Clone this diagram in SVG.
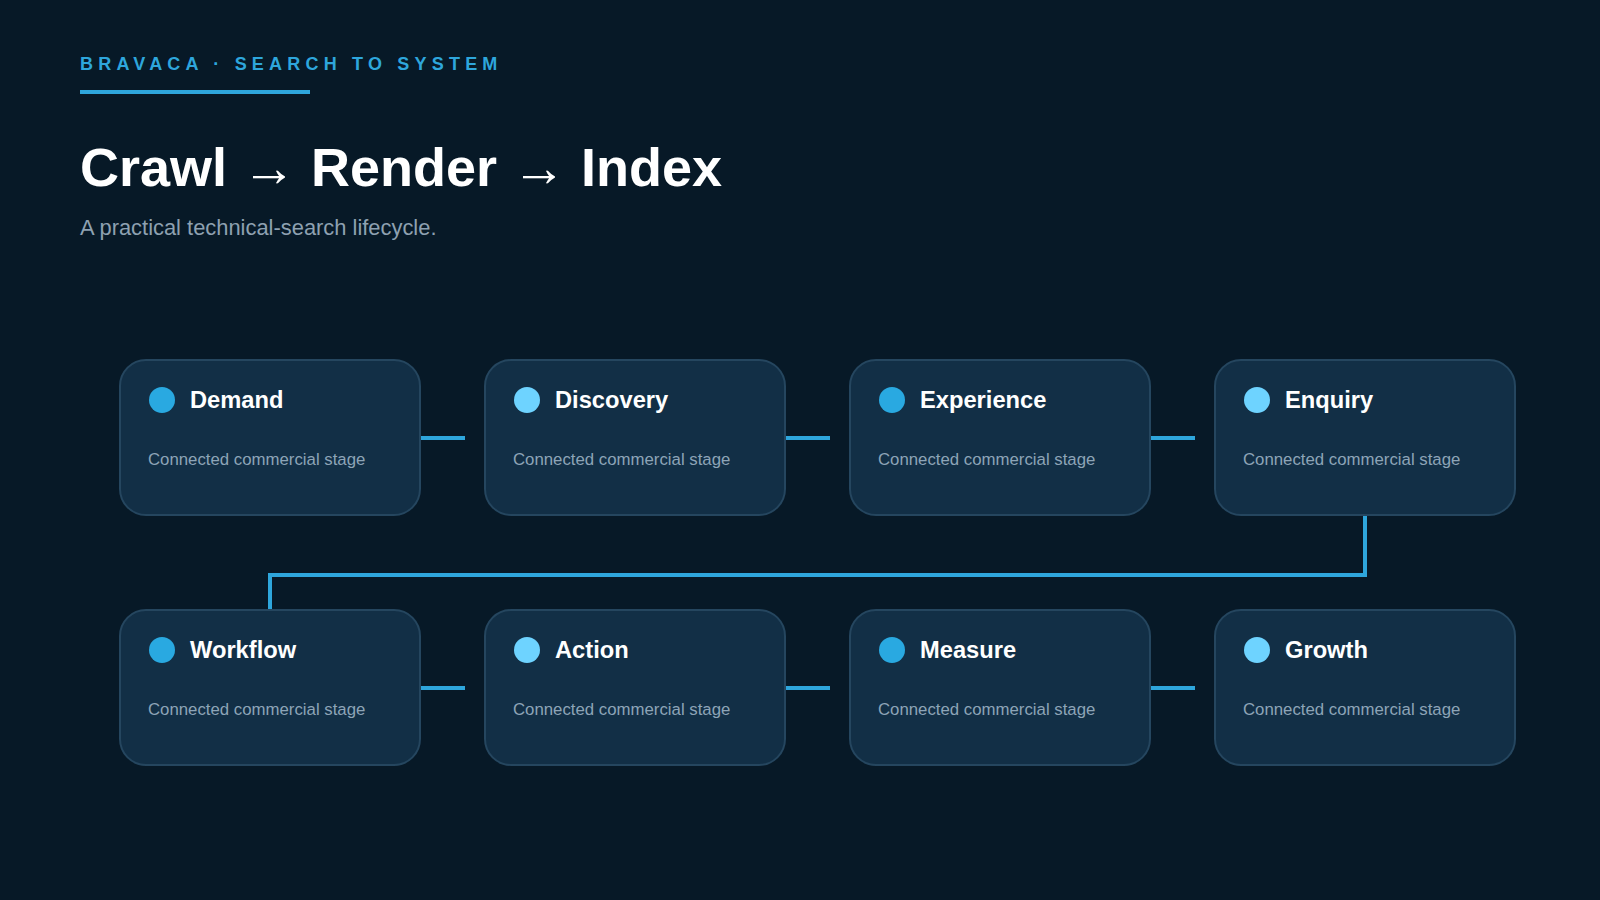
<svg xmlns="http://www.w3.org/2000/svg" width="1600" height="900" viewBox="0 0 1600 900">
  <style>
    .bg { fill: #071927; }
    .card { fill: #122f46; stroke: #25465f; stroke-width: 2; }
    .dot-a { fill: #29a9e1; }
    .dot-b { fill: #6ed3ff; }
    .name { font-family: "Liberation Sans", Arial, sans-serif; font-weight: 700; font-size: 23.7px; fill: #ffffff; }
    .desc { font-family: "Liberation Sans", Arial, sans-serif; font-size: 16.8px; fill: #8da4b7; }
    .conn { fill: none; stroke: #2ea6dc; stroke-width: 4; }
    .kicker { font-family: "Liberation Sans", Arial, sans-serif; font-weight: 700; font-size: 18px; letter-spacing: 5.2px; fill: #2ea6dc; }
    .title { font-family: "Liberation Sans", Arial, sans-serif; font-weight: 700; font-size: 54px; fill: #ffffff; }
    .sub { font-family: "Liberation Sans", Arial, sans-serif; font-size: 21.9px; fill: #8ea1b1; }
  </style>
  <rect class="bg" x="0" y="0" width="1600" height="900"/>

  <g id="header">
    <text class="kicker" x="80" y="70">BRAVACA · SEARCH TO SYSTEM</text>
    <rect x="80" y="90" width="230" height="4" fill="#2ea6dc"/>
    <text class="title" x="80" y="186">Crawl → Render → Index</text>
    <text class="sub" x="80" y="235">A practical technical-search lifecycle.</text>
  </g>

  <g id="connectors">
    <line class="conn" x1="420" y1="438" x2="465" y2="438"/>
    <line class="conn" x1="785" y1="438" x2="830" y2="438"/>
    <line class="conn" x1="1150" y1="438" x2="1195" y2="438"/>
    <polyline class="conn" points="1365,515 1365,575 270,575 270,610"/>
    <line class="conn" x1="420" y1="688" x2="465" y2="688"/>
    <line class="conn" x1="785" y1="688" x2="830" y2="688"/>
    <line class="conn" x1="1150" y1="688" x2="1195" y2="688"/>
  </g>

  <g id="node-demand">
    <rect class="card" x="120" y="360" width="300" height="155" rx="26"/>
    <circle class="dot-a" cx="162" cy="400" r="13"/>
    <text class="name" x="190" y="408">Demand</text>
    <text class="desc" x="148" y="465">Connected commercial stage</text>
  </g>
  <g id="node-discovery">
    <rect class="card" x="485" y="360" width="300" height="155" rx="26"/>
    <circle class="dot-b" cx="527" cy="400" r="13"/>
    <text class="name" x="555" y="408">Discovery</text>
    <text class="desc" x="513" y="465">Connected commercial stage</text>
  </g>
  <g id="node-experience">
    <rect class="card" x="850" y="360" width="300" height="155" rx="26"/>
    <circle class="dot-a" cx="892" cy="400" r="13"/>
    <text class="name" x="920" y="408">Experience</text>
    <text class="desc" x="878" y="465">Connected commercial stage</text>
  </g>
  <g id="node-enquiry">
    <rect class="card" x="1215" y="360" width="300" height="155" rx="26"/>
    <circle class="dot-b" cx="1257" cy="400" r="13"/>
    <text class="name" x="1285" y="408">Enquiry</text>
    <text class="desc" x="1243" y="465">Connected commercial stage</text>
  </g>

  <g id="node-workflow">
    <rect class="card" x="120" y="610" width="300" height="155" rx="26"/>
    <circle class="dot-a" cx="162" cy="650" r="13"/>
    <text class="name" x="190" y="658">Workflow</text>
    <text class="desc" x="148" y="715">Connected commercial stage</text>
  </g>
  <g id="node-action">
    <rect class="card" x="485" y="610" width="300" height="155" rx="26"/>
    <circle class="dot-b" cx="527" cy="650" r="13"/>
    <text class="name" x="555" y="658">Action</text>
    <text class="desc" x="513" y="715">Connected commercial stage</text>
  </g>
  <g id="node-measure">
    <rect class="card" x="850" y="610" width="300" height="155" rx="26"/>
    <circle class="dot-a" cx="892" cy="650" r="13"/>
    <text class="name" x="920" y="658">Measure</text>
    <text class="desc" x="878" y="715">Connected commercial stage</text>
  </g>
  <g id="node-growth">
    <rect class="card" x="1215" y="610" width="300" height="155" rx="26"/>
    <circle class="dot-b" cx="1257" cy="650" r="13"/>
    <text class="name" x="1285" y="658">Growth</text>
    <text class="desc" x="1243" y="715">Connected commercial stage</text>
  </g>
</svg>
